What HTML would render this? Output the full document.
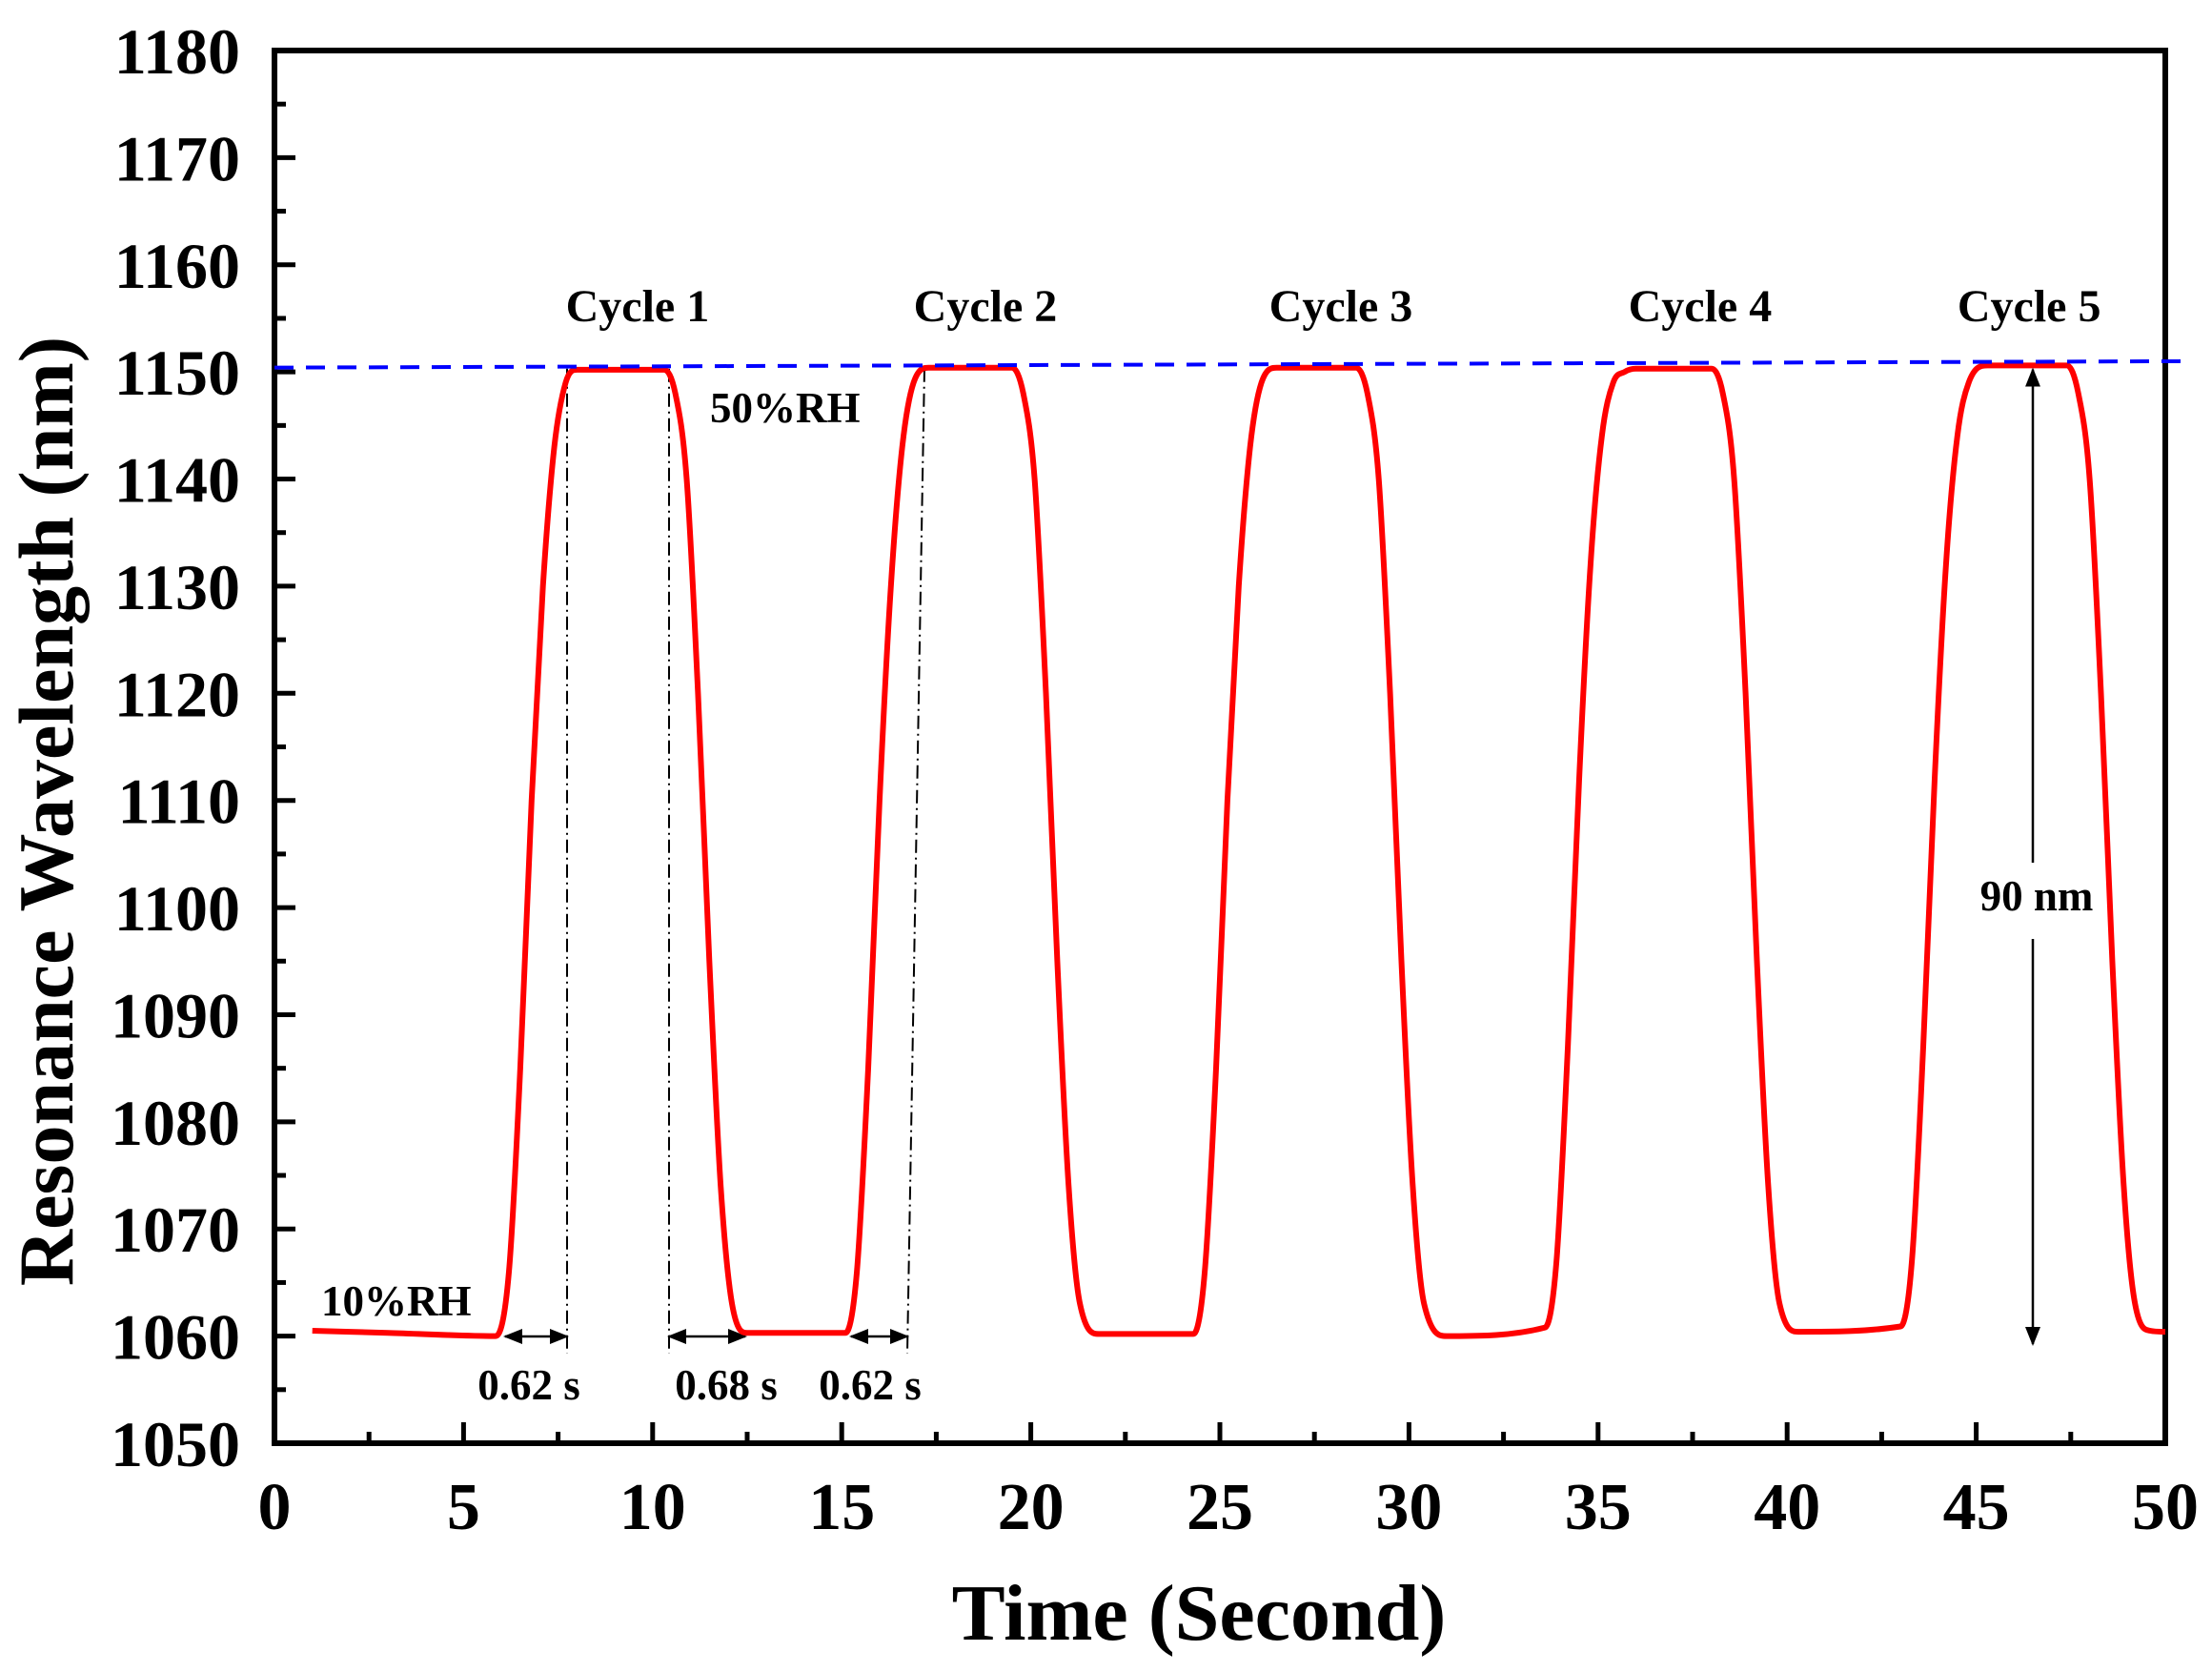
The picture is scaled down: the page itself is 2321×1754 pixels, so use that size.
<!DOCTYPE html>
<html><head><meta charset="utf-8"><style>
html,body{margin:0;padding:0;background:#fff;}
svg{display:block;font-family:"Liberation Serif",serif;font-weight:bold;}
</style></head><body>
<svg id="chart" width="2321" height="1754" viewBox="0 0 2321 1754" xmlns="http://www.w3.org/2000/svg">
<defs>
<marker id="ah" viewBox="0 0 10 10" refX="9" refY="5" markerWidth="8" markerHeight="8" orient="auto-start-reverse"><path d="M0,1 L10,5 L0,9 z" fill="#000"/></marker>
</defs>
<g id="plot"></g>
</svg>
<script>
const times=[1,3,5.85,6.2,6.5,6.8,7.1,7.4,7.7,8.0,10.3,10.6,10.9,11.2,11.5,11.8,12.1,12.5,
15.1,15.4,15.7,16.0,16.3,16.6,16.9,17.3,19.5,19.8,20.1,20.4,20.7,21.0,21.3,21.8,
24.3,24.6,24.9,25.2,25.5,25.8,26.1,26.5,28.6,28.9,29.2,29.5,29.8,30.1,30.4,31.0,33.6,
33.9,34.2,34.5,34.8,35.1,35.4,35.7,36.0,38.0,38.3,38.6,38.9,39.2,39.5,39.8,40.3,43.0,
43.3,43.6,43.9,44.2,44.5,44.8,45.3,47.4,47.7,48.0,48.3,48.6,48.9,49.2,49.6,50];
const wavelengths=[1060.5,1060.3,1060,1066,1085,1110,1130,1143,1149,1150.2,1150.2,1148,1140,1120,1095,1074,1063,1060.3,
1060.3,1066,1085,1110,1130,1143,1149,1150.4,1150.4,1148,1140,1120,1095,1074,1063,1060.2,
1060.2,1066,1085,1110,1130,1143,1149,1150.4,1150.4,1148,1140,1120,1095,1074,1063,1060,1060.8,
1067,1087,1112,1132,1144,1149,1150,1150.3,1150.3,1148,1140,1120,1095,1074,1063,1060.4,1060.9,
1067,1087,1112,1132,1144,1149,1150.6,1150.6,1148,1140,1120,1095,1074,1063,1060.5,1060.4];
const xTicks=[0,5,10,15,20,25,30,35,40,45,50];
const yTicks=[1050,1060,1070,1080,1090,1100,1110,1120,1130,1140,1150,1160,1170,1180];
const cycleLabels=["Cycle 1","Cycle 2","Cycle 3","Cycle 4","Cycle 5"];
const cycleCenters=[9.6,18.8,28.2,37.7,46.4];
const refLine=[1150.4,1151.0];

const L=288,R=2272,T=53,B=1514;
const X=t=>L+(t-0)/50*(R-L);
const Y=v=>B-(v-1050)/130*(B-T);
const NS="http://www.w3.org/2000/svg";
const g=document.getElementById('plot');
function mk(tag,attrs,txt){const e=document.createElementNS(NS,tag);for(const k in attrs)e.setAttribute(k,attrs[k]);if(txt!==undefined)e.textContent=txt;g.appendChild(e);return e;}

for(let i=0;i<xTicks.length;i++){
  const x=X(xTicks[i]);
  const t=mk('line',{x1:x,x2:x,y1:B,y2:B-22,stroke:'#000','stroke-width':5});
  
  
  if(i<xTicks.length-1){const xm=X(xTicks[i]+2.5);const m=mk('line',{x1:xm,x2:xm,y1:B,y2:B-12,stroke:'#000','stroke-width':5});
  
  }
  const lb=mk('text',{x:x,y:1604,'text-anchor':'middle','font-size':70},String(xTicks[i]));
  
  
}
for(let i=0;i<yTicks.length;i++){
  const y=Y(yTicks[i]);
  const t=mk('line',{x1:L,x2:L+22,y1:y,y2:y,stroke:'#000','stroke-width':5});
  
  
  if(i<yTicks.length-1){const ym=Y(yTicks[i]+5);const m=mk('line',{x1:L,x2:L+12,y1:ym,y2:ym,stroke:'#000','stroke-width':5});
  
  }
  const lb=mk('text',{x:252,y:y+24,'text-anchor':'end','font-size':68},String(yTicks[i]));
  
  
}
const fr=mk('rect',{x:L,y:T,width:R-L,height:B-T,fill:'none',stroke:'#000','stroke-width':6});



const guides=[[595,595],[702,702],[970,952]];
guides.forEach(gd=>{const l=mk('line',{x1:gd[0],x2:gd[1],y1:Y(1150.3),y2:1420,stroke:'#000','stroke-width':2,'stroke-dasharray':'14 5 2 5'});

});
const arrs=[[530,595],[702,782],[893,952]];
arrs.forEach(a=>{const l=mk('line',{x1:a[0],x2:a[1],y1:1402,y2:1402,stroke:'#000','stroke-width':2.5,'marker-start':'url(#ah)','marker-end':'url(#ah)'});

});

// monotone cubic (Fritsch-Carlson) smoothed data line
const n=times.length;
const xs=times.map(X), ys=wavelengths.map(Y);
const dk=[], m=new Array(n);
for(let i=0;i<n-1;i++) dk.push((ys[i+1]-ys[i])/(xs[i+1]-xs[i]));
m[0]=dk[0]; m[n-1]=dk[n-2];
for(let i=1;i<n-1;i++){ m[i]=(dk[i-1]*dk[i]<=0)?0:(dk[i-1]+dk[i])/2; }
for(let i=0;i<n-1;i++){
  if(dk[i]===0){m[i]=0;m[i+1]=0;continue;}
  const a=m[i]/dk[i], b=m[i+1]/dk[i], s=a*a+b*b;
  if(s>9){const tau=3/Math.sqrt(s);m[i]=tau*a*dk[i];m[i+1]=tau*b*dk[i];}
}
let d='M'+xs[0].toFixed(1)+','+ys[0].toFixed(1);
for(let i=0;i<n-1;i++){
  const h=(xs[i+1]-xs[i])/3;
  d+='C'+(xs[i]+h).toFixed(1)+','+(ys[i]+m[i]*h).toFixed(1)+' '+(xs[i+1]-h).toFixed(1)+','+(ys[i+1]-m[i+1]*h).toFixed(1)+' '+xs[i+1].toFixed(1)+','+ys[i+1].toFixed(1);
}
const p=mk('path',{d:d,fill:'none',stroke:'#ff0000','stroke-width':6,'stroke-linejoin':'round'});



const rl=mk('line',{x1:L,x2:2294,y1:Y(refLine[0]),y2:Y(refLine[1]),stroke:'#0000ff','stroke-width':4,'stroke-dasharray':'20 13'});



const a1=mk('line',{x1:2133,x2:2133,y1:905,y2:Y(1150.4)+2,stroke:'#000','stroke-width':2.5,'marker-end':'url(#ah)'});


const a2=mk('line',{x1:2133,x2:2133,y1:985,y2:Y(1060.5)+14,stroke:'#000','stroke-width':2.5,'marker-end':'url(#ah)'});



for(let i=0;i<cycleLabels.length;i++){
  const c=mk('text',{x:X(cycleCenters[i]),y:337,'text-anchor':'middle','font-size':48},cycleLabels[i]);
  
  
}
const anns=[[745,443,'start','50%RH','label-50rh'],[337,1380,'start','10%RH','label-10rh'],[2137,955,'middle','90 nm','label-90nm'],
[555,1468,'middle','0.62 s','label-rise-1'],[762,1468,'middle','0.68 s','label-fall-1'],[913,1468,'middle','0.62 s','label-rise-2']];
anns.forEach(a=>{const t=mk('text',{x:a[0],y:a[1],'text-anchor':a[2],'font-size':45},a[3]);

});

const xt=mk('text',{x:1258,y:1720,'text-anchor':'middle','font-size':84},'Time (Second)');


const yt=mk('text',{x:0,y:0,'text-anchor':'middle','font-size':82,transform:'translate(76,851) rotate(-90)'},'Resonance Wavelength (nm)');


</script>
</body></html>
